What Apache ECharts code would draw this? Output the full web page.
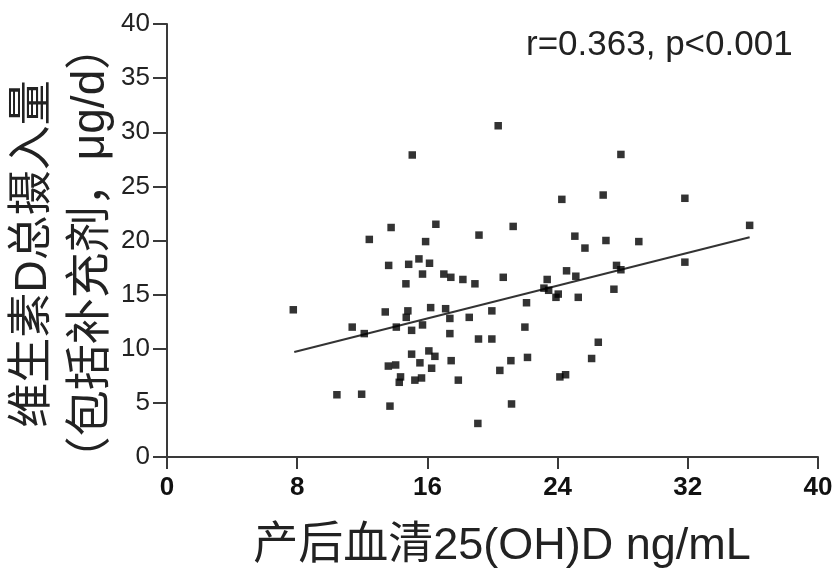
<!DOCTYPE html>
<html>
<head>
<meta charset="utf-8">
<script src="https://cdn.jsdelivr.net/npm/echarts@6/dist/echarts.min.js"></script>
<style>html,body{margin:0;padding:0;background:#fff;}#chart{width:837px;height:573px;}</style>
</head>
<body>
<div id="chart"></div>
<script>
// Serum 25(OH)D (ng/mL) values
const xValues = [15.07,13.77,16.52,12.43,15.89,19.17,13.62,14.85,15.48,16.13,15.7,17.01,17.44,18.18,18.92,14.68,7.76,13.41,14.8,14.7,16.2,17.12,17.38,18.57,11.38,12.12,14.09,15.03,15.7,17.38,19.14,15.03,16.09,16.46,15.54,16.26,17.46,13.6,14.05,14.35,14.27,15.23,15.64,17.9,10.44,11.96,13.7,19.1,20.35,27.89,24.26,26.8,21.27,25.06,26.97,28.99,25.68,24.55,25.12,27.62,27.89,20.66,23.36,23.16,23.45,24.04,23.9,25.27,27.46,19.96,22.09,21.99,19.96,26.5,26.09,22.15,21.13,20.45,24.14,24.49,21.17,31.82,35.8,31.82];
// Total vitamin D intake (μg/d)
const yValues = [27.9,21.2,21.5,20.1,19.9,20.5,17.7,17.8,18.3,17.9,16.9,16.9,16.6,16.4,16.0,16.0,13.6,13.4,13.5,12.9,13.8,13.7,12.8,12.9,12.0,11.4,12.0,11.7,12.2,11.4,10.9,9.5,9.8,9.3,8.7,8.2,8.9,8.4,8.5,7.4,6.9,7.1,7.3,7.1,5.75,5.8,4.7,3.1,30.6,27.95,23.8,24.2,21.3,20.4,20.0,19.9,19.3,17.2,16.7,17.7,17.3,16.6,16.4,15.6,15.4,15.05,14.75,14.75,15.5,13.5,14.25,12.0,10.9,10.6,9.1,9.2,8.9,8.0,7.4,7.6,4.9,23.9,21.4,18.0];
// Regression line endpoints
const fitX = [7.82, 35.8];
const fitY = [9.7, 20.3];
const xTicks = [0, 8, 16, 24, 32, 40];
const yTicks = [0, 5, 10, 15, 20, 25, 30, 35, 40];
const statText = 'r=0.363, p<0.001';
const xTitle = '产后血清25(OH)D ng/mL';
const yTitle1 = '维生素D总摄入量';
const yTitle2 = '（包括补充剂，μg/d）';

const chart = echarts.init(document.getElementById('chart'), null, {renderer: 'canvas'});
const pts = xValues.map((x, i) => [x, yValues[i]]);
const fit = fitX.map((x, i) => [x, fitY[i]]);
const cjk = '"Liberation Sans", "Noto Sans CJK SC", sans-serif';
chart.setOption({
  animation: false,
  backgroundColor: '#fff',
  grid: {left: 167, right: 19, top: 24, bottom: 116, containLabel: false},
  xAxis: {
    type: 'value', min: xTicks[0], max: xTicks[xTicks.length-1], interval: 8,
    axisLine: {show: true, onZero: false, lineStyle: {color: '#3a3a3a', width: 2}},
    axisTick: {show: true, length: 12, lineStyle: {color: '#3a3a3a', width: 2}},
    axisLabel: {color: '#111', fontSize: 26, fontWeight: 'bold', fontFamily: 'Liberation Sans', margin: 18},
    splitLine: {show: false}
  },
  yAxis: {
    type: 'value', min: yTicks[0], max: yTicks[yTicks.length-1], interval: 5,
    axisLine: {show: true, onZero: false, lineStyle: {color: '#3a3a3a', width: 2}},
    axisTick: {show: true, length: 14, lineStyle: {color: '#3a3a3a', width: 2}},
    axisLabel: {color: '#222', fontSize: 26, fontFamily: 'Liberation Sans', margin: 17},
    splitLine: {show: false}
  },
  graphic: [
    {type: 'text', left: 526, top: 28, style: {text: statText, fontSize: 35, fontFamily: 'Liberation Sans', fill: '#222'}},
    {type: 'text', x: 502, y: 547, style: {text: xTitle, fontSize: 45, fontFamily: cjk, fill: '#222', align: 'center', verticalAlign: 'middle'}},
    {type: 'text', x: 34, y: 254, rotation: Math.PI/2, style: {text: yTitle1, fontSize: 45, fontFamily: cjk, fill: '#222', align: 'center', verticalAlign: 'middle'}},
    {type: 'text', x: 91, y: 253, rotation: Math.PI/2, style: {text: yTitle2, fontSize: 46, fontFamily: cjk, fill: '#222', align: 'center', verticalAlign: 'middle'}}
  ],
  series: [
    {type: 'scatter', data: pts, symbol: 'rect', symbolSize: 7.5, itemStyle: {color: '#000'}, z: 3},
    {type: 'line', data: fit, symbol: 'none', lineStyle: {color: '#333', width: 2}, z: 2}
  ]
});
</script>
</body>
</html>
